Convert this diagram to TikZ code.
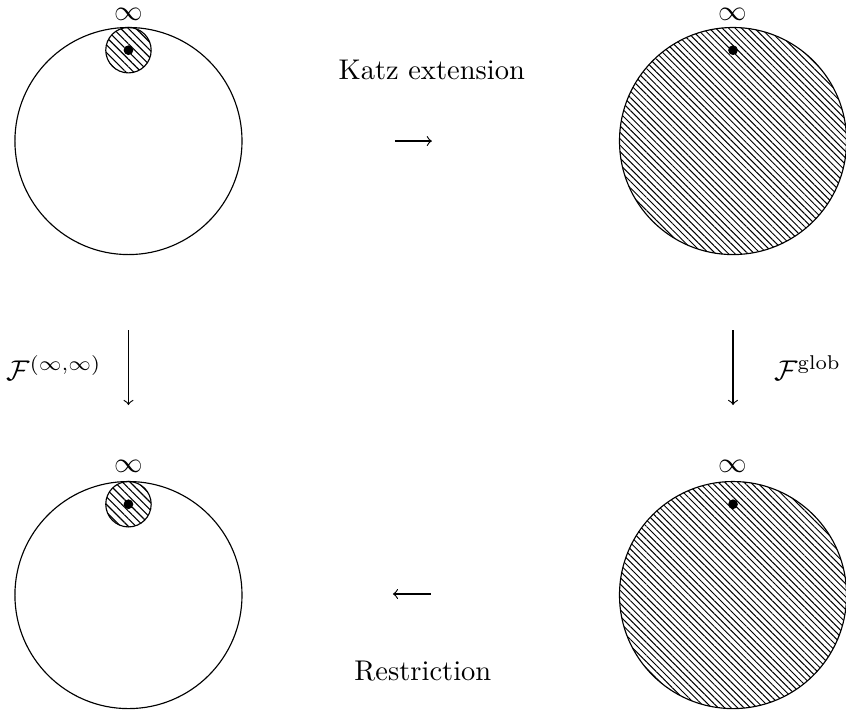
\documentclass[tikz,border=0pt]{standalone}
\usepackage{amsmath,amssymb}
\usepackage{tikz}
\usetikzlibrary{patterns.meta,positioning}

\begin{document}
\begin{tikzpicture}[
  disc/.style={circle,draw,thin,minimum size=2.8cm,inner sep=0pt},
  hatchdisc/.style={disc,pattern={Lines[angle=-45,distance=1.6pt,line width=0.35pt]}},
  nbhd/.style={circle,draw,thin,minimum size=0.56cm,inner sep=0pt,
    pattern={Lines[angle=-45,distance=1.9pt,line width=0.4pt]}},
  pt/.style={circle,fill,minimum size=0.12cm,inner sep=0pt},
  infty/.style={inner sep=0pt},
  map/.style={->,thin}]
\useasboundingbox (-1.584,1.739) rectangle (8.847,-7.040);
% local picture at infinity
\node[disc] (tl) at (0,0) {};
\node[nbhd] (ntl) at (0,1.12) {};
\node[pt] (ptl) at (0,1.12) {};
\node[infty] (itl) at (0,1.565) {$\infty$};
% global picture
\node[hatchdisc] (tr) at (7.454,0) {};
\node[pt] (ptr) at (7.454,1.12) {};
\node[infty] (itr) at (7.454,1.565) {$\infty$};
\node[disc] (bl) at (0,-5.598) {};
\node[nbhd] (nbl) at (0,-4.478) {};
\node[pt] (pbl) at (0,-4.478) {};
\node[infty] (ibl) at (0,-4.008) {$\infty$};
\node[hatchdisc] (br) at (7.454,-5.598) {};
\node[pt] (pbr) at (7.454,-4.478) {};
\node[infty] (ibr) at (7.454,-4.008) {$\infty$};
% horizontal maps
\coordinate (k0) at (3.285,0);
\coordinate (k1) at (3.741,0);
\draw[map] (k0) -- (k1);
\node (katz) at (3.74,0.875) {Katz extension};
\coordinate (r0) at (3.73,-5.585);
\coordinate (r1) at (3.26,-5.585);
\draw[map] (r0) -- (r1);
\node (restr) at (3.63,-6.535) {Restriction};
% vertical maps
\coordinate (v0) at (0,-2.33);
\coordinate (v1) at (0,-3.255);
\draw[map] (v0) -- (v1);
\node[anchor=east] (floc) at (-0.21,-2.80) {$\mathcal{F}^{(\infty,\infty)}$};
\coordinate (w0) at (7.454,-2.33);
\coordinate (w1) at (7.454,-3.255);
\draw[map] (w0) -- (w1);
\node[anchor=west] (fglob) at (7.84,-2.80) {$\mathcal{F}^{\mathrm{glob}}$};
\end{tikzpicture}
\end{document}
